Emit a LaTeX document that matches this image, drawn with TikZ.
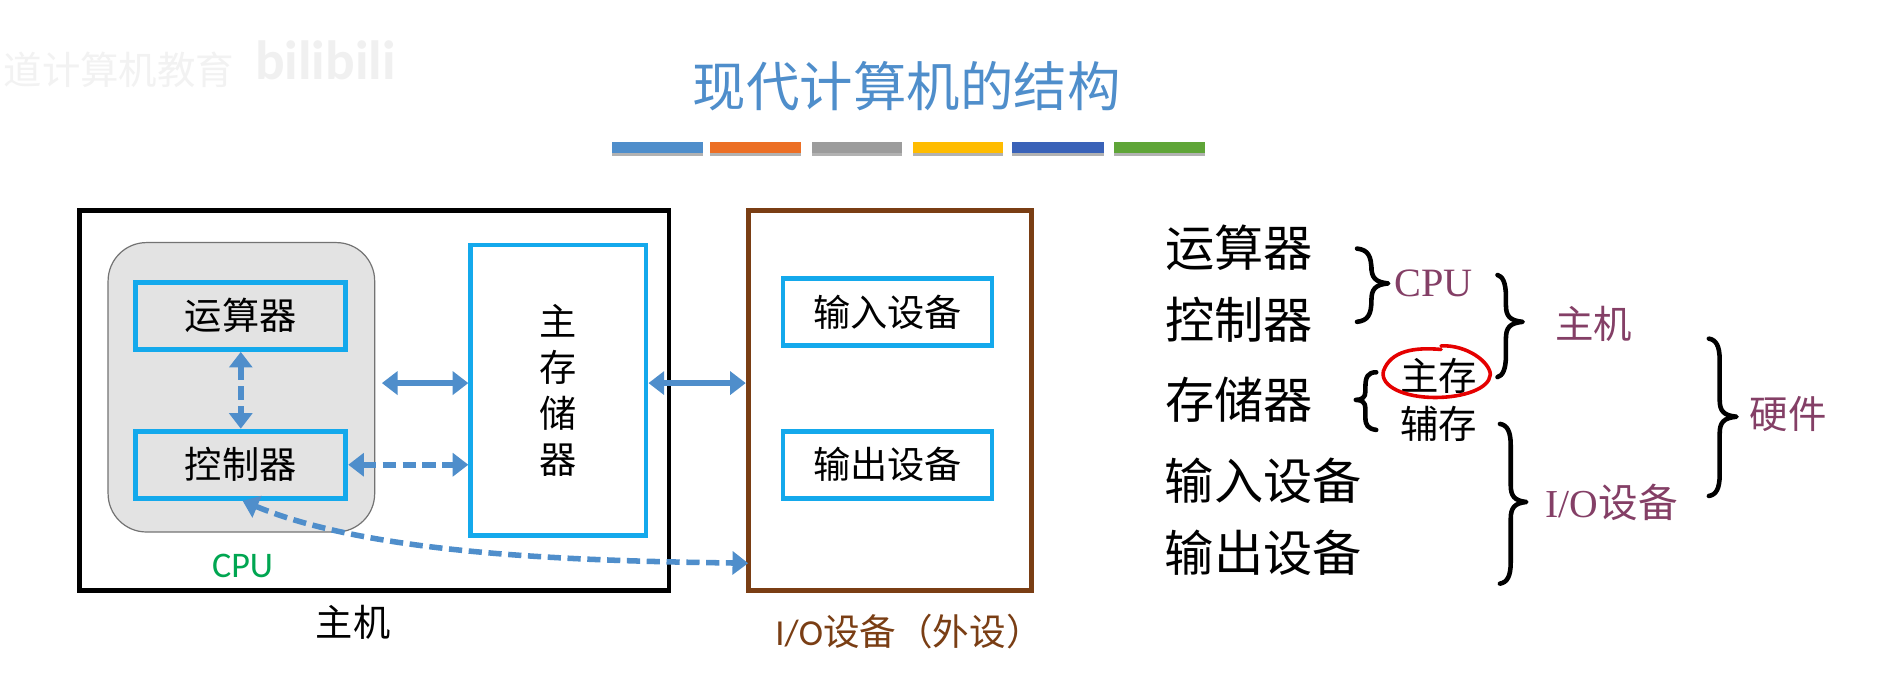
\documentclass[tikz,border=0pt]{standalone}
\usepackage{fontspec}
\setmainfont{Liberation Serif}
\newfontfamily\cjk{Noto Sans CJK SC}
\newfontfamily\lsans{Carlito}
\newfontfamily\lser{Liberation Serif}
\usetikzlibrary{arrows.meta,calc}
\newcommand\fsz[1]{\fontsize{#1}{#1}\selectfont\cjk}
\definecolor{arrowblue}{HTML}{4F8ECB}
\definecolor{boxcyan}{HTML}{14A9EC}
\definecolor{brownio}{HTML}{7A3E14}
\definecolor{plumlabel}{HTML}{843F66}
\definecolor{greencpu}{HTML}{00A651}
\tikzset{
  x=1pt,y=-1pt,
  cyanbox/.style={draw=boxcyan,line width=4pt,inner sep=0pt,text=black,font=\fsz{31}},
  flow/.style={draw=arrowblue,line width=4.6pt,{Triangle[length=13pt,width=19pt]}-{Triangle[length=13pt,width=19pt]}},
  dashflow/.style={flow,dash pattern=on 11pt off 5.5pt},
  term/.style={inner sep=0pt,text=black,font=\fsz{41}},
  group/.style={inner sep=0pt,text=plumlabel,font=\fsz{32}},
  bracestroke/.style={draw=black,line width=3.8pt,line cap=round,line join=round},
}
% brace opening left: x0, ytop, xmid, ytip, ybottom, xtip
\newcommand\bracepath[6]{%
  \draw[bracestroke] (#1,#2) .. controls (#3-3,#2+1) and (#3,#2+6) .. (#3,#2+18)
    -- (#3,#4-14) .. controls (#3,#4-5) and (#3+3,#4-1) .. (#6,#4)
    .. controls (#3+3,#4+1) and (#3,#4+5) .. (#3,#4+14)
    -- (#3,#5-18) .. controls (#3,#5-6) and (#3-3,#5-1) .. (#1,#5);
}
\begin{document}
\begin{tikzpicture}
\path[use as bounding box,fill=white] (0,0) rectangle (1568,569);
% watermark
\node[inner sep=0pt,text=black!5,font=\fsz{32}] (markcn) at (99,58) {道计算机教育};
\node[inner sep=0pt,text=black!6,font=\lsans\bfseries\fontsize{46}{46}\selectfont] (markbili) at (271,50) {bilibili};
% title
\node[inner sep=0pt,text=arrowblue,font=\fsz{44.5}] (title) at (755,72) {现代计算机的结构};
% colour bars
\foreach \xa/\xb/\c in {510/585/4F8ECB,591/667/EC6F25,676/751/9C9C9C,760/835/FFBC00,843/919/3A62B8,928/1003/5FA538}{
  \definecolor{barc}{HTML}{\c}
  \fill[black!30] (\xa,120) rectangle (\xb,129.5);
  \fill[barc] (\xa,118) rectangle (\xb,127);
}
% host + CPU
\node[draw=black,line width=4pt,minimum width=491pt,minimum height=317pt,inner sep=0pt] (host) at (311.5,333.5) {};
\node[draw=black!55,fill=black!11,line width=1pt,rounded corners=32pt,minimum width=222pt,minimum height=241pt,inner sep=0pt] (cpu) at (201,322.5) {};
\node[cyanbox,minimum width=175pt,minimum height=56pt] (alu) at (200.5,263) {运算器};
\node[cyanbox,minimum width=175pt,minimum height=56pt] (ctrl) at (200.5,387) {控制器};
\node[cyanbox,minimum width=146pt,minimum height=242pt,align=center,font=\fontsize{31}{38.5}\selectfont\cjk] (mem) at (465,325) {主\\存\\储\\器};
\node[draw=brownio,line width=4pt,minimum width=236pt,minimum height=317pt,inner sep=0pt] (io) at (741,333.5) {};
\node[cyanbox,minimum width=174pt,minimum height=56pt] (inp) at (739,260) {输入设备};
\node[cyanbox,minimum width=174pt,minimum height=56pt] (outp) at (739,387) {输出设备};
\node[inner sep=0pt,text=greencpu,font=\lsans\fontsize{30}{30}\selectfont] (cpulabel) at (202,471) {CPU};
\node[inner sep=0pt,text=black,font=\fsz{31}] (hostlabel) at (294,518) {主机};
\node[inner sep=0pt,text=brownio,font=\fsz{30.5}] (iolabel) at (757,526) {{\lsans I/O}设备（外设）};
% connectors
\coordinate (busl) at (318,319);
\coordinate (iobus) at (623,319);
\coordinate (ctrlin) at (202,417);
\coordinate (ioctl) at (623,469);
\draw[dashflow] (alu.south) -- (ctrl.north);
\draw[flow] (busl) -- (mem.west |- busl);
\draw[dashflow] (ctrl.east) -- (ctrl.east -| mem.west);
\draw[flow] (mem.east |- iobus) -- (io.west |- iobus);
\draw[dashflow] (ctrlin) .. controls (310,462) and (480,467) .. (ioctl);
% right-hand list
\node[term] (t1) at (1032,206) {运算器};
\node[term] (t2) at (1032,266) {控制器};
\node[term] (t3) at (1032,333) {存储器};
\node[term] (t4) at (1052,400) {输入设备};
\node[term] (t5) at (1052,460) {输出设备};
\node[inner sep=0pt,text=plumlabel,font=\lser\fontsize{33.5}{33.5}\selectfont] (g1) at (1194,236) {CPU};
\node[group] (g2) at (1327,270) {主机};
\node[group] (g3) at (1489,345) {硬件};
\node[inner sep=0pt,text=plumlabel,font=\fsz{33}] (g4) at (1342,418) {{\lser I/O}设备};
\node[inner sep=0pt,text=black,font=\fsz{32}] (m1) at (1198,313) {主存};
\node[inner sep=0pt,text=black,font=\fsz{32}] (m2) at (1198,353) {辅存};
\bracepath{1130}{207}{1142}{236}{268}{1156}
\bracepath{1247}{229}{1254}{268}{314}{1268}
\bracepath{1423}{282}{1432}{347}{413}{1446}
\bracepath{1249}{353}{1258}{418}{486}{1271}
% left brace for storage
\draw[bracestroke] (1146,310) .. controls (1139,310) and (1137,314) .. (1137,322)
  -- (1137,326) .. controls (1137,331) and (1134,333) .. (1129,333)
  .. controls (1134,333) and (1137,335) .. (1137,340)
  -- (1137,348) .. controls (1137,354) and (1139,357) .. (1146,358);
% red hand-drawn circle
\draw[draw=red!90!black,line width=3pt,line cap=round]
  (1200,291) .. controls (1178,289) and (1158,292) .. (1152,309)
  .. controls (1149,322) and (1170,331) .. (1195,331)
  .. controls (1218,331) and (1240,324) .. (1241,312)
  .. controls (1241,302) and (1222,287) .. (1200,288);
\end{tikzpicture}
\end{document}
